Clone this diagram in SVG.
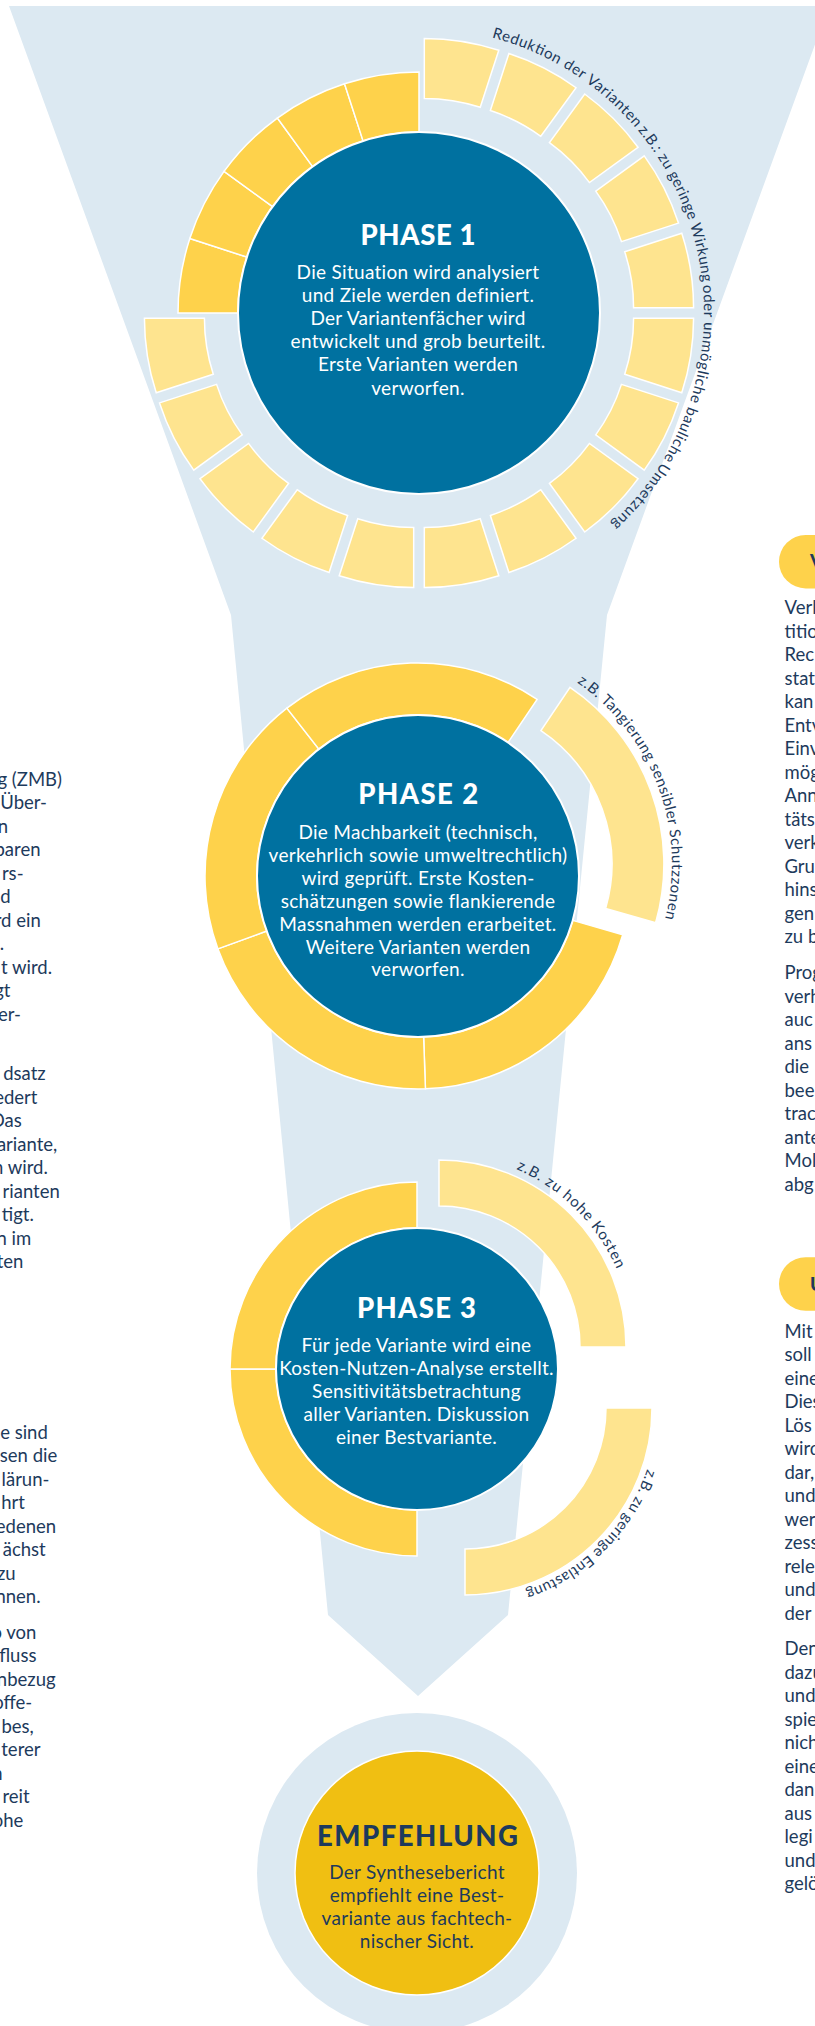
<svg xmlns="http://www.w3.org/2000/svg" width="815" height="2026" viewBox="0 0 815 2026">
<defs>
<style>
.fun{fill:#dce9f2}
.blue{fill:#0071a0;stroke:#fff;stroke-width:2}
.dk{fill:#fed24b;stroke:#fff;stroke-width:1.5}
.lt{fill:#fee48f;stroke:#fff;stroke-width:1.5}
.title{font-family:Lato,"Open Sans","Liberation Sans",sans-serif;font-weight:900;font-size:27.5px;fill:#fff;text-anchor:middle}
.body{font-family:Lato,"Open Sans","Liberation Sans",sans-serif;font-size:19px;letter-spacing:0.3px;fill:#fff;text-anchor:middle}
.navy{fill:#1d3a5c}
.arc{font-family:Lato,"Open Sans","Liberation Sans",sans-serif;font-size:15px;fill:#1d3a5c}
.side{font-family:Lato,"Open Sans","Liberation Sans",sans-serif;font-size:18.5px;fill:#1d3a5c}
.end{text-anchor:end}
.badge{font-family:Lato,"Open Sans","Liberation Sans",sans-serif;font-size:19px;font-weight:900;fill:#1d3a5c}
</style>
<path id="s1l" d="M5.32,-274.58 A241,241 0 0 1 79.79,-262.78 L61.25,-205.72 A181,181 0 0 0 5.32,-214.58 Z"/>
<path id="s1d" d="M0,-241 A241,241 0 0 1 74.47,-229.2 L55.93,-172.14 A181,181 0 0 0 0,-181 Z"/>
<path id="arc1" d="M491.8,37.46 A285,285 0 0 1 602.2,531.3" fill="none"/>
<path id="arc2" d="M577.03,682.53 A221,221 0 0 1 663.34,924.92" fill="none"/>
<path id="arc3a" d="M516.36,1169.09 A194,194 0 0 1 623.5,1287.05" fill="none"/>
<path id="arc3b" d="M647.08,1468.92 A192,192 0 0 1 498.34,1597.08" fill="none"/>
</defs>

<g id="connectors">
<polygon class="fun" points="9,6 829,6 607,615 508,1615 418,1696 328,1615 231,615"/>
</g>

<g id="phase1">
<use href="#s1l" class="lt" transform="translate(419 313) rotate(0)"/>
<use href="#s1l" class="lt" transform="translate(419 313) rotate(18)"/>
<use href="#s1l" class="lt" transform="translate(419 313) rotate(36)"/>
<use href="#s1l" class="lt" transform="translate(419 313) rotate(54)"/>
<use href="#s1l" class="lt" transform="translate(419 313) rotate(72)"/>
<use href="#s1l" class="lt" transform="translate(419 313) rotate(90)"/>
<use href="#s1l" class="lt" transform="translate(419 313) rotate(108)"/>
<use href="#s1l" class="lt" transform="translate(419 313) rotate(126)"/>
<use href="#s1l" class="lt" transform="translate(419 313) rotate(144)"/>
<use href="#s1l" class="lt" transform="translate(419 313) rotate(162)"/>
<use href="#s1l" class="lt" transform="translate(419 313) rotate(180)"/>
<use href="#s1l" class="lt" transform="translate(419 313) rotate(198)"/>
<use href="#s1l" class="lt" transform="translate(419 313) rotate(216)"/>
<use href="#s1l" class="lt" transform="translate(419 313) rotate(234)"/>
<use href="#s1l" class="lt" transform="translate(419 313) rotate(252)"/>
<use href="#s1d" class="dk" transform="translate(419 313) rotate(270)"/>
<use href="#s1d" class="dk" transform="translate(419 313) rotate(288)"/>
<use href="#s1d" class="dk" transform="translate(419 313) rotate(306)"/>
<use href="#s1d" class="dk" transform="translate(419 313) rotate(324)"/>
<use href="#s1d" class="dk" transform="translate(419 313) rotate(342)"/>
<circle class="blue" cx="419" cy="313" r="181"/>
<text class="title" x="418" y="244.6" textLength="115" lengthAdjust="spacing">PHASE 1</text>
<text class="body" x="418" y="279">Die Situation wird analysiert</text>
<text class="body" x="418" y="302.1">und Ziele werden definiert.</text>
<text class="body" x="418" y="325.2">Der Variantenfächer wird</text>
<text class="body" x="418" y="348.3">entwickelt und grob beurteilt.</text>
<text class="body" x="418" y="371.4">Erste Varianten werden</text>
<text class="body" x="418" y="394.5">verworfen.</text>
<text class="arc"><textPath href="#arc1" startOffset="0" textLength="172.4" lengthAdjust="spacing">Reduktion der Varianten</textPath></text>
<text class="arc"><textPath href="#arc1" startOffset="175.6" textLength="167.5" lengthAdjust="spacing">z.B.: zu geringe Wirkung</textPath></text>
<text class="arc"><textPath href="#arc1" startOffset="346.3" textLength="181.4" lengthAdjust="spacing">oder unmögliche bauliche</textPath></text>
<text class="arc"><textPath href="#arc1" startOffset="530.9" textLength="80.1" lengthAdjust="spacing">Umsetzung</textPath></text>
</g>

<g id="phase2">
<path class="dk" d="M622.75,934.71 A213,213 0 0 1 425.43,1088.87 L423.62,1036.9 A161,161 0 0 0 572.76,920.38 Z"/>
<path class="dk" d="M425.43,1088.87 A213,213 0 0 1 217.85,948.85 L266.71,931.07 A161,161 0 0 0 423.62,1036.9 Z"/>
<path class="dk" d="M217.85,948.85 A213,213 0 0 1 286.86,708.15 L318.88,749.13 A161,161 0 0 0 266.71,931.07 Z"/>
<path class="dk" d="M286.86,708.15 A213,213 0 0 1 537.11,699.41 L508.03,742.52 A161,161 0 0 0 318.88,749.13 Z"/>
<path class="lt" transform="translate(32.9 -12)" d="M537.11,699.41 A213,213 0 0 1 622.75,934.71 L572.76,920.38 A161,161 0 0 0 508.03,742.52 Z"/>
<circle class="blue" cx="418" cy="876" r="161"/>
<text class="title" x="418.3" y="804" textLength="120" lengthAdjust="spacing">PHASE 2</text>
<text class="body" x="418" y="839">Die Machbarkeit (technisch,</text>
<text class="body" x="418" y="861.9">verkehrlich sowie umweltrechtlich)</text>
<text class="body" x="418" y="884.8">wird geprüft. Erste Kosten-</text>
<text class="body" x="418" y="907.7">schätzungen sowie flankierende</text>
<text class="body" x="418" y="930.6">Massnahmen werden erarbeitet.</text>
<text class="body" x="418" y="953.5">Weitere Varianten werden</text>
<text class="body" x="418" y="976.4">verworfen.</text>
<text class="arc"><textPath href="#arc2" textLength="268" lengthAdjust="spacing">z.B. Tangierung sensibler Schutzzonen</textPath></text>
</g>

<g id="phase3">
<path class="dk" d="M417,1556 A187,187 0 0 1 230,1369 L276,1369 A141,141 0 0 0 417,1510 Z"/>
<path class="dk" d="M230,1369 A187,187 0 0 1 417,1182 L417,1228 A141,141 0 0 0 276,1369 Z"/>
<path class="lt" transform="translate(22 -22)" d="M417,1182 A187,187 0 0 1 604,1369 L558,1369 A141,141 0 0 0 417,1228 Z"/>
<path class="lt" transform="translate(48 39)" d="M604,1369 A187,187 0 0 1 417,1556 L417,1510 A141,141 0 0 0 558,1369 Z"/>
<circle class="blue" cx="417" cy="1369" r="141"/>
<text class="title" x="416.5" y="1318.3" textLength="119" lengthAdjust="spacing">PHASE 3</text>
<text class="body" x="416.5" y="1352">Für jede Variante wird eine</text>
<text class="body" x="416.5" y="1375.1">Kosten-Nutzen-Analyse erstellt.</text>
<text class="body" x="416.5" y="1398.2">Sensitivitätsbetrachtung</text>
<text class="body" x="416.5" y="1421.3">aller Varianten. Diskussion</text>
<text class="body" x="416.5" y="1444.4">einer Bestvariante.</text>
<text class="arc"><textPath href="#arc3a" textLength="145" lengthAdjust="spacing">z.B. zu hohe Kosten</textPath></text>
<text class="arc"><textPath href="#arc3b" textLength="178" lengthAdjust="spacing">z.B. zu geringe Entlastung</textPath></text>
</g>

<g id="empfehlung">
<circle class="fun" cx="417" cy="1873" r="160"/>
<circle cx="417" cy="1873" r="122" fill="#f0bf12" stroke="#fff" stroke-width="1.5"/>
<text class="title navy" x="417.5" y="1845.7" textLength="201" lengthAdjust="spacing">EMPFEHLUNG</text>
<text class="body navy" x="417" y="1879.3">Der Synthesebericht</text>
<text class="body navy" x="417" y="1902.1">empfiehlt eine Best-</text>
<text class="body navy" x="417" y="1924.9">variante aus fachtech-</text>
<text class="body navy" x="417" y="1947.7">nischer Sicht.</text>
</g>

<g id="side-left" class="side end">
<text x="62" y="785.5">g (ZMB)</text>
<text x="47" y="809">Über-</text>
<text x="8" y="832.5">n</text>
<text x="40.5" y="856">baren</text>
<text x="23.5" y="879.5">rs-</text>
<text x="10.5" y="903">d</text>
<text x="40.7" y="926.5">rd ein</text>
<text x="4" y="950">.</text>
<text x="52" y="973.5">t wird.</text>
<text x="10.5" y="997">gt</text>
<text x="21" y="1020.5">er-</text>
<text x="45.7" y="1080.3">dsatz</text>
<text x="37.4" y="1103.8">edert</text>
<text x="21.8" y="1127.3">Das</text>
<text x="57.2" y="1150.8">ariante,</text>
<text x="47.8" y="1174.3">n wird.</text>
<text x="59.8" y="1197.8">rianten</text>
<text x="33.8" y="1221.3">tigt.</text>
<text x="31.2" y="1244.8">n im</text>
<text x="23.4" y="1268.3">ten</text>
<text x="47.8" y="1438.7">e sind</text>
<text x="57.2" y="1462.2">sen die</text>
<text x="49.4" y="1485.7">lärun-</text>
<text x="25" y="1509.2">hrt</text>
<text x="56.1" y="1532.7">edenen</text>
<text x="45.7" y="1556.2">ächst</text>
<text x="15.6" y="1579.7">zu</text>
<text x="40.5" y="1603.2">nnen.</text>
<text x="36.4" y="1638.7">o von</text>
<text x="36.4" y="1662.2">fluss</text>
<text x="55.6" y="1685.7">nbezug</text>
<text x="32.2" y="1709.2">offe-</text>
<text x="33.8" y="1732.7">bes,</text>
<text x="40.5" y="1756.2">terer</text>
<text x="2.6" y="1779.7">n</text>
<text x="29.6" y="1803.2">reit</text>
<text x="23.4" y="1826.7">ohe</text>
</g>

<g id="side-right" class="side">
<rect x="779" y="535" width="80" height="53.4" rx="26.7" fill="#fed24b"/>
<text class="badge" x="810" y="568">V</text>
<text x="784.5" y="614">Verl</text>
<text x="784.5" y="637.5">titio</text>
<text x="784.5" y="661">Rec</text>
<text x="784.5" y="684.5">stat</text>
<text x="784.5" y="708">kan</text>
<text x="784.5" y="731.5">Entv</text>
<text x="784.5" y="755">Einv</text>
<text x="784.5" y="778.5">mög</text>
<text x="784.5" y="802">Ann</text>
<text x="784.5" y="825.5">täts</text>
<text x="784.5" y="849">verk</text>
<text x="784.5" y="872.5">Gru</text>
<text x="784.5" y="896">hins</text>
<text x="784.5" y="919.5">gen</text>
<text x="784.5" y="943">zu b</text>
<text x="784.5" y="979">Prog</text>
<text x="784.5" y="1002.5">verh</text>
<text x="784.5" y="1026">auc</text>
<text x="784.5" y="1049.5">ans</text>
<text x="784.5" y="1073">die</text>
<text x="784.5" y="1096.5">bee</text>
<text x="784.5" y="1120">trac</text>
<text x="784.5" y="1143.5">ante</text>
<text x="784.5" y="1167">Mol</text>
<text x="784.5" y="1190.5">abg</text>
<rect x="779" y="1257.3" width="80" height="53.4" rx="26.7" fill="#fed24b"/>
<text class="badge" x="810" y="1290.5">U</text>
<text x="784.5" y="1337.7">Mit</text>
<text x="784.5" y="1361.2">soll</text>
<text x="784.5" y="1384.7">eine</text>
<text x="784.5" y="1408.2">Dies</text>
<text x="784.5" y="1431.7">Lös</text>
<text x="784.5" y="1455.2">wird</text>
<text x="784.5" y="1478.7">dar,</text>
<text x="784.5" y="1502.2">und</text>
<text x="784.5" y="1525.7">wer</text>
<text x="784.5" y="1549.2">zess</text>
<text x="784.5" y="1572.7">rele</text>
<text x="784.5" y="1596.2">und</text>
<text x="784.5" y="1619.7">der</text>
<text x="784.5" y="1655.3">Den</text>
<text x="784.5" y="1678.8">dazu</text>
<text x="784.5" y="1702.3">und</text>
<text x="784.5" y="1725.8">spie</text>
<text x="784.5" y="1749.3">nich</text>
<text x="784.5" y="1772.8">eine</text>
<text x="784.5" y="1796.3">dan</text>
<text x="784.5" y="1819.8">aus</text>
<text x="784.5" y="1843.3">legi</text>
<text x="784.5" y="1866.8">und</text>
<text x="784.5" y="1890.3">gelö</text>
</g>
</svg>
